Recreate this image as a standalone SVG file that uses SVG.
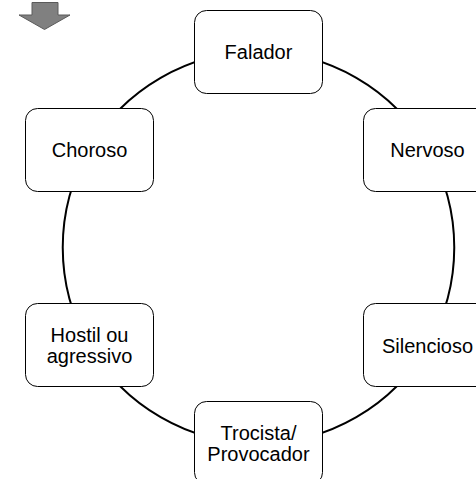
<svg xmlns="http://www.w3.org/2000/svg" width="476" height="479" viewBox="0 0 476 479">
<style>
.box{fill:#fff;stroke:#000;stroke-width:1}
.lbl{font-family:"Liberation Sans",Arial,sans-serif;font-size:20px;fill:#000;text-anchor:middle}
.arc{fill:none;stroke:#000;stroke-width:2}
</style>
<rect width="476" height="479" fill="#fff"/>
<polygon points="32,2.5 58,2.5 58,15 70,15 44.5,29.5 19,15 32,15" fill="#808080" stroke="#5a5a5a" stroke-width="1"/>
<g id="connectors">
<path class="arc" d="M258.5,51.5 A196,196 0 0 1 428,149.5"/>
<path class="arc" d="M428,149.5 A196,196 0 0 1 428,345.5"/>
<path class="arc" d="M428,345.5 A196,196 0 0 1 258.5,443.5"/>
<path class="arc" d="M258.5,443.5 A196,196 0 0 1 89,345.5"/>
<path class="arc" d="M89,345.5 A196,196 0 0 1 89,149.5"/>
<path class="arc" d="M89,149.5 A196,196 0 0 1 258.5,51.5"/>
</g>
<g id="falador"><rect class="box" x="194.5" y="10.5" width="128" height="83" rx="12"/><text class="lbl" x="258.5" y="59">Falador</text></g>
<g id="nervoso"><rect class="box" x="363.5" y="108.5" width="128" height="83" rx="12"/><text class="lbl" x="427.5" y="157">Nervoso</text></g>
<g id="silencioso"><rect class="box" x="363.5" y="303.5" width="128" height="83" rx="12"/><text class="lbl" x="427.5" y="352.5">Silencioso</text></g>
<g id="trocista"><rect class="box" x="194.5" y="401.5" width="128" height="83" rx="12"/><text class="lbl" x="258.5" y="440">Trocista/</text><text class="lbl" x="258.5" y="461">Provocador</text></g>
<g id="hostil"><rect class="box" x="25.5" y="303.5" width="128" height="83" rx="12"/><text class="lbl" x="89.5" y="341.5">Hostil ou</text><text class="lbl" x="89.5" y="362.5">agressivo</text></g>
<g id="choroso"><rect class="box" x="25.5" y="108.5" width="128" height="83" rx="12"/><text class="lbl" x="89.5" y="157">Choroso</text></g>
</svg>
